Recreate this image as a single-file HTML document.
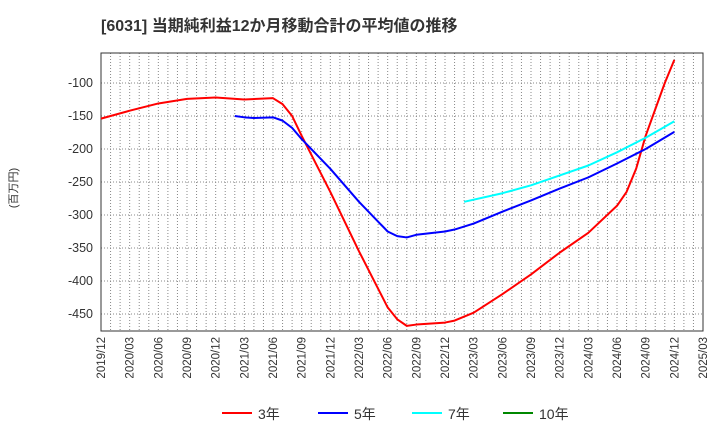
<!DOCTYPE html>
<html><head><meta charset="utf-8"><style>
body{margin:0;background:#fff;width:720px;height:440px;overflow:hidden;font-family:"Liberation Sans","Noto Sans CJK JP",sans-serif}
</style></head><body>
<svg width="720" height="440" id="c" font-family="Liberation Sans, Noto Sans CJK JP, sans-serif">
<text x="101" y="31" font-size="16" font-weight="bold" fill="#333">[6031]  当期純利益12か月移動合計の平均値の推移</text>
<text transform="translate(17,188) rotate(-90)" text-anchor="middle" font-size="11" fill="#333">(百万円)</text>
<g id="grid"></g><g id="axes"></g><g id="series"></g>
<g id="legend"></g>
</svg>
<script>
const xTicks=["2019/12","2020/03","2020/06","2020/09","2020/12","2021/03","2021/06","2021/09","2021/12","2022/03","2022/06","2022/09","2022/12","2023/03","2023/06","2023/09","2023/12","2024/03","2024/06","2024/09","2024/12","2025/03"];
const yTicks=[-100,-150,-200,-250,-300,-350,-400,-450];
const m3=[0,3,6,9,12,15,18,19,20,21,24,27,30,31,32,33,36,37,39,42,45,48,51,54,55,56,57,58,59,60];
const v3=[-154,-142,-131,-124,-122,-125,-123,-132,-150,-180,-265,-355,-440,-458,-468,-466,-463,-460,-448,-420,-390,-357,-327,-286,-265,-230,-180,-140,-100,-65];
const m5=[14,15,16,18,19,20,21,24,27,30,31,32,33,36,37,39,42,45,48,51,54,57,60];
const v5=[-150,-152,-153,-152,-157,-168,-185,-230,-280,-325,-332,-334,-330,-325,-322,-313,-295,-278,-260,-243,-222,-200,-174];
const m7=[38,42,45,48,51,54,57,60];
const v7=[-280,-267,-255,-240,-225,-205,-183,-158];
const L=101,R=703,T=53,B=331;
const X=m=>L+m*(R-L)/63;
const Y=v=>83+(-100-v)*33/50;
const NS="http://www.w3.org/2000/svg";
function el(t,a,p){const e=document.createElementNS(NS,t);for(const k in a)e.setAttribute(k,a[k]);document.getElementById(p).appendChild(e);return e;}
for(let m=1;m<63;m++){const g=el('line',{x1:X(m),x2:X(m),y1:T,y2:B,stroke:'#888','stroke-dasharray':'1,2','stroke-width':1},'grid');
}
yTicks.forEach(v=>{const g=el('line',{x1:L,x2:R,y1:Y(v),y2:Y(v),stroke:'#888','stroke-dasharray':'1,2'},'grid');

const t=el('text',{x:L-8,y:Y(v)+4,'text-anchor':'end','font-size':12.5,fill:'#333'},'axes');t.textContent=v;
});
xTicks.forEach((s,i)=>{const x=X(i*3);const t=el('text',{transform:`translate(${x+4},${B+6}) rotate(-90)`,'text-anchor':'end','font-size':11.5,fill:'#333'},'axes');t.textContent=s;
});
const fr=el('rect',{x:L,y:T,width:R-L,height:B-T,fill:'none',stroke:'#333'},'axes');

function line(ms,vs,c,n){const p=el('polyline',{points:ms.map((m,i)=>X(m)+','+Y(vs[i])).join(' '),fill:'none',stroke:c,'stroke-width':2,'stroke-linejoin':'round'},'series');
}
line(m3,v3,'#f00','series-3y');line(m5,v5,'#00f','series-5y');line(m7,v7,'#0ff','series-7y');
[['3年','#f00',222],['5年','#00f',318],['7年','#0ff',412],['10年','#080',503]].forEach(([t,c,x])=>{
const l=el('line',{x1:x,x2:x+30,y1:413,y2:413,stroke:c,'stroke-width':2},'legend');

const tx=el('text',{x:x+36,y:419,'font-size':14,fill:'#333'},'legend');tx.textContent=t;
});
</script>
</body></html>
